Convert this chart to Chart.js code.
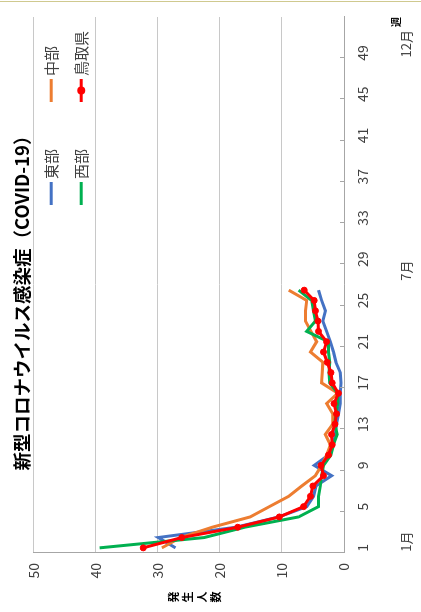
<!DOCTYPE html>
<html>
<head>
<meta charset="utf-8">
<script src="https://cdn.jsdelivr.net/npm/chart.js@4.4.1/dist/chart.umd.min.js"></script>
<style>
html, body { margin: 0; padding: 0; background: #fff; }
#wrap { position: relative; width: 421px; height: 612px; overflow: hidden; }
#box { position: absolute; left: 0; top: 0; width: 612px; height: 421px;
       transform-origin: 0 0; transform: translate(0, 612px) rotate(-90deg); }
#topline { position: absolute; left: 0; top: 1px; width: 421px; height: 1px; background: #cfc98f; }
</style>
</head>
<body>
<div id="wrap">
  <div id="box"><canvas id="myChart" width="612" height="421"></canvas></div>
  <div id="topline"></div>
</div>
<script>
// weeks 1..52
var weekLabels = ['1','2','3','4','5','6','7','8','9','10','11','12','13','14','15','16','17','18','19','20',
                  '21','22','23','24','25','26','27','28','29','30','31','32','33','34','35','36','37','38','39','40',
                  '41','42','43','44','45','46','47','48','49','50','51','52'];
var monthLabels = ['1月', '7月', '12月'];
var monthWeeks = [1.6, 27.9, 49.9];

var eastData    = [27.1, 29.9, 17.4, 10.5, 6.0, 4.9, 4.5, 2.0, 4.8, 2.5, 1.7, 1.4, 1.2, 0.9, 0.6, 0.6, 0.5, 0.6, 1.3, 1.7, 2.2, 2.8, 3.4, 3.0, 3.6, 4.1];
var centralData = [29.3, 26.3, 21.2, 15.1, 12.0, 8.9, 6.8, 4.6, 3.6, 2.8, 2.2, 3.0, 1.8, 1.8, 2.8, 1.0, 3.6, 3.5, 3.4, 5.4, 4.4, 5.3, 6.2, 6.2, 6.0, 8.9];
var westData    = [39.3, 22.5, 16.0, 7.3, 4.1, 4.1, 3.8, 3.6, 3.3, 2.1, 1.7, 1.1, 1.5, 1.3, 1.0, 1.0, 2.3, 2.4, 2.3, 2.5, 2.5, 6.0, 4.6, 4.9, 5.2, 7.3];
var prefData    = [32.3, 26.1, 17.1, 10.4, 6.5, 5.4, 5.0, 3.3, 3.7, 2.5, 1.9, 2.0, 1.45, 1.2, 1.6, 0.9, 1.9, 2.1, 2.7, 3.3, 2.8, 4.1, 4.2, 4.6, 4.8, 6.4];

var FONT = "'Noto Sans CJK JP', 'Noto Sans', sans-serif";

// legend inside the plot, 2 x 2
var insideLegend = {
    id: 'insideLegend',
    afterDraw: function(chart) {
        var ctx = chart.ctx, area = chart.chartArea;
        ctx.save();
        ctx.font = '15px ' + FONT;
        ctx.textBaseline = 'middle';
        ctx.fillStyle = '#404040';
        chart.data.datasets.forEach(function(ds, i) {
            var x = area.left + (i % 2 === 0 ? 348 : 451);
            var y = area.top + (i < 2 ? 18 : 48);
            ctx.strokeStyle = ds.borderColor;
            ctx.lineWidth = 3;
            ctx.beginPath();
            ctx.moveTo(x, y);
            ctx.lineTo(x + 23, y);
            ctx.stroke();
            if (ds.pointRadius > 0) {
                ctx.fillStyle = ds.pointBackgroundColor;
                ctx.beginPath();
                ctx.arc(x + 11.5, y, 4, 0, Math.PI * 2);
                ctx.fill();
                ctx.fillStyle = '#404040';
            }
            ctx.fillText(ds.label, x + 26, y);
        });
        ctx.restore();
    }
};

// vertical y title + inner tick marks on week axis
var extras = {
    id: 'extras',
    afterDraw: function(chart) {
        var ctx = chart.ctx, area = chart.chartArea;
        var xs = chart.scales.x;
        ctx.save();
        ctx.strokeStyle = '#a6a6a6';
        ctx.lineWidth = 1;
        var step = xs.getPixelForValue(1) - xs.getPixelForValue(0);
        for (var i = 0; i < weekLabels.length; i += 4) {
            var px = Math.round(xs.getPixelForValue(i) - step / 2) + 0.5;
            ctx.beginPath();
            ctx.moveTo(px, area.bottom - 4);
            ctx.lineTo(px, area.bottom);
            ctx.stroke();
        }
        var t = '発生人数';
        ctx.font = 'bold 11px ' + FONT;
        ctx.fillStyle = '#000';
        ctx.textAlign = 'center';
        ctx.textBaseline = 'middle';
        var cy = (area.top + area.bottom) / 2 + 6 - 1.5 * 14;
        for (var k = 0; k < t.length; k++) {
            ctx.fillText(t[k], 15, cy + k * 14);
        }
        ctx.restore();
    }
};

var ctx = document.getElementById('myChart').getContext('2d');
var myChart = new Chart(ctx, {
    type: 'line',
    data: {
        labels: weekLabels,
        datasets: [{
            label: '東部',
            data: eastData,
            borderColor: '#4472C4',
            borderWidth: 3,
            pointRadius: 0,
            order: 3
        }, {
            label: '中部',
            data: centralData,
            borderColor: '#ED7D31',
            borderWidth: 3,
            pointRadius: 0,
            order: 2
        }, {
            label: '西部',
            data: westData,
            borderColor: '#00B050',
            borderWidth: 3,
            pointRadius: 0,
            order: 1
        }, {
            label: '鳥取県',
            data: prefData,
            borderColor: '#FF0000',
            backgroundColor: '#FF0000',
            pointBackgroundColor: '#FF0000',
            pointBorderColor: '#FF0000',
            borderWidth: 3,
            pointRadius: 3,
            pointBorderWidth: 1,
            order: 0
        }]
    },
    options: {
        responsive: false,
        animation: false,
        devicePixelRatio: 1,
        layout: { padding: { left: 15, right: 0, top: 0, bottom: 0 } },
        plugins: {
            legend: { display: false },
            tooltip: { enabled: false },
            title: {
                display: true,
                text: '新型コロナウイルス感染症（COVID-19）',
                color: '#000',
                font: { family: FONT, size: 18.5, weight: 'bold', lineHeight: 1.2 },
                padding: { top: 11, bottom: 0 }
            }
        },
        scales: {
            x: {
                type: 'category',
                offset: true,
                grid: { display: false, drawTicks: false, tickLength: 0 },
                border: { display: true, color: '#a6a6a6', width: 1 },
                ticks: {
                    autoSkip: false,
                    maxRotation: 0,
                    padding: 10,
                    color: '#404040',
                    font: { family: FONT, size: 14 },
                    callback: function(val, i) { return i % 4 === 0 ? weekLabels[i] : null; }
                },
                title: {
                    display: true,
                    text: '週',
                    align: 'end',
                    color: '#000',
                    font: { family: FONT, size: 10, weight: 'bold', lineHeight: 1.2 },
                    padding: { top: 0, bottom: -4 }
                },
                afterFit: function(s) { s.height = 54; }
            },
            x2: {
                type: 'linear',
                position: 'bottom',
                min: 0.5,
                max: 52.5,
                grid: { display: false, drawTicks: false, tickLength: 0 },
                border: { display: false },
                afterBuildTicks: function(s) {
                    s.ticks = monthWeeks.map(function(v) { return { value: v }; });
                },
                ticks: {
                    autoSkip: false,
                    maxRotation: 0,
                    padding: 0,
                    color: '#404040',
                    font: { family: FONT, size: 13 },
                    callback: function(v, i) { return monthLabels[i]; }
                },
                afterFit: function(s) { s.height = 23; }
            },
            y: {
                min: 0,
                max: 50,
                ticks: {
                    stepSize: 10,
                    padding: 10,
                    color: '#404040',
                    font: { family: FONT, size: 14 }
                },
                grid: { color: '#c8c8c8', drawTicks: false, tickLength: 0 },
                border: { display: true, color: '#a6a6a6' },
                afterFit: function(s) { s.width = 44; }
            },
            yPad: {
                type: 'linear',
                position: 'right',
                display: true,
                grid: { display: false, drawTicks: false, tickLength: 0 },
                border: { display: false },
                ticks: { display: false },
                afterFit: function(s) { s.width = 17; }
            }
        }
    },
    plugins: [insideLegend, extras]
});
</script>
</body>
</html>
